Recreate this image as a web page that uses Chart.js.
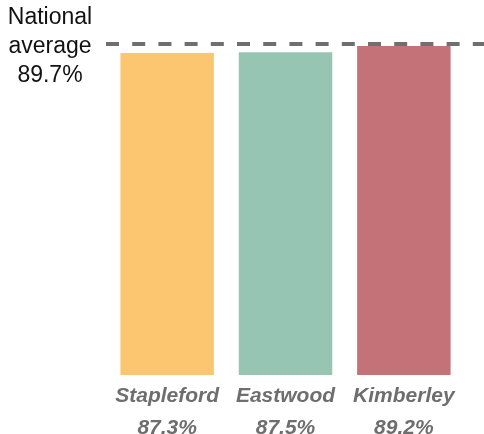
<!DOCTYPE html>
<html>
<head>
<meta charset="utf-8">
<script src="https://cdn.jsdelivr.net/npm/chart.js@4/dist/chart.umd.min.js"></script>
<style>
body{margin:0;background:#fff;}
</style>
</head>
<body>
<canvas id="avgChart" width="484" height="434"></canvas>
<script>
// data
const towns = ["Stapleford", "Eastwood", "Kimberley"];
const rates = [87.3, 87.5, 89.2];
const barColors = ["#FBC66F", "#97C5B3", "#C57178"];
const nationalAvg = 89.7;
const avgLabel = ["National", "average", nationalAvg + "%"];

// draws the dashed average line, its label and the labels under the bars
const overlay = {
  id: "overlay",
  afterDatasetsDraw(chart){
    const ctx = chart.ctx;
    const x = chart.scales.x;
    const y = chart.scales.y;
    const yAvg = y.getPixelForValue(nationalAvg);

    ctx.save();
    ctx.strokeStyle = "#6f6f6f";
    ctx.lineWidth = 4;
    ctx.setLineDash([13, 13.2]);
    ctx.beginPath();
    ctx.moveTo(106, yAvg);
    ctx.lineTo(chart.width, yAvg);
    ctx.stroke();
    ctx.setLineDash([]);

    ctx.fillStyle = "#111";
    ctx.font = "23px 'Liberation Sans', Arial, sans-serif";
    ctx.textAlign = "center";
    ctx.textBaseline = "alphabetic";
    avgLabel.forEach((t, i) => ctx.fillText(t, 50, yAvg - 20 + i * 29));

    ctx.fillStyle = "#6e6e6e";
    ctx.font = "italic bold 21px 'Liberation Sans', Arial, sans-serif";
    const base = y.getPixelForValue(0);
    towns.forEach((t, i) => {
      const cx = x.getPixelForValue(i);
      ctx.fillText(t, cx, base + 27);
      ctx.fillText(rates[i].toFixed(1) + "%", cx, base + 58.5);
    });
    ctx.restore();
  }
};

new Chart(document.getElementById("avgChart"), {
  type: "bar",
  data: {
    labels: towns,
    datasets: [{
      data: rates,
      backgroundColor: barColors,
      borderWidth: 0,
      categoryPercentage: 1,
      barPercentage: 0.79
    }]
  },
  options: {
    responsive: false,
    animation: false,
    layout: {padding: {left: 108, right: 21, top: 43, bottom: 59}},
    plugins: {legend: {display: false}, tooltip: {enabled: false}},
    scales: {
      x: {display: false},
      y: {display: false, min: 0, max: 90}
    }
  },
  plugins: [overlay]
});
</script>
</body>
</html>
